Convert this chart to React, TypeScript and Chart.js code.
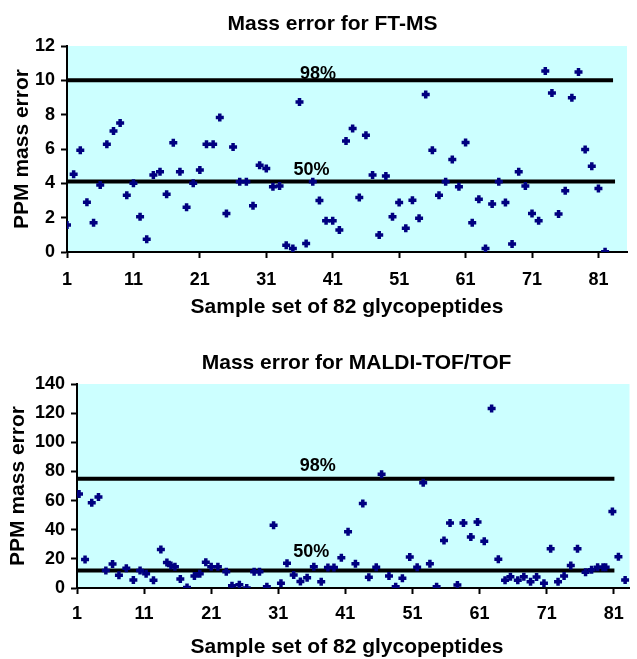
import { useEffect, useRef } from "react";
import { Chart, registerables } from "chart.js";

Chart.register(...registerables);

const FONT = "'Liberation Sans', Arial, Helvetica, sans-serif";
const MARKER = "#000080";
const PLOT_BG = "#ccffff";

// ---------- data ----------
const xTickValues = [1, 11, 21, 31, 41, 51, 61, 71, 81];

const ftmsPpm = [
  1.57, 4.53, 5.93, 2.9, 1.7, 3.9, 6.28, 7.05, 7.52, 3.3,
  4.0, 2.05, 0.74, 4.48, 4.67, 3.37, 6.36, 4.67, 2.6, 4.0,
  4.77, 6.28, 6.28, 7.83, 2.25, 6.12, 4.09, 4.09, 2.7, 5.06,
  4.87, 3.8, 3.84, 0.4, 0.2, 8.74, 0.5, 4.09, 3.0, 1.82,
  1.82, 1.28, 6.47, 7.19, 3.18, 6.8, 4.48, 0.99, 4.42, 2.05,
  2.89, 1.38, 3.02, 1.96, 9.17, 5.93, 3.31, 4.09, 5.39, 3.8,
  6.38, 1.7, 3.08, 0.21, 2.79, 4.09, 2.89, 0.47, 4.67, 3.84,
  2.25, 1.82, 10.54, 9.26, 2.21, 3.57, 8.99, 10.48, 5.97, 5.0,
  3.7, 0.02,
];
const ftmsSample = ftmsPpm.map((_, i) => i + 1);
const ftmsThresholds = [10, 4.1];
const ftmsThresholdEnds = [83.2, 83.5];
const ftmsThresholdLabels = ["98%", "50%"];
const ftmsLabelX = [38.8, 37.8];

const maldiSample = [
  1.3, 2.2, 3.2, 4.2, 5.3, 6.3, 7.25, 8.35, 9.4, 10.4,
  11.3, 12.4, 13.5, 14.4, 15.0, 15.6, 16.4, 17.4, 18.5, 19.3,
  20.2, 21.0, 22.0, 23.25, 24.1, 25.2, 26.3, 27.4, 28.2, 29.3,
  30.3, 31.4, 32.3, 33.3, 34.3, 35.3, 36.3, 37.4, 38.4, 39.3,
  40.4, 41.4, 42.5, 43.6, 44.5, 45.6, 46.4, 47.5, 48.5, 49.5,
  50.6, 51.7, 52.6, 53.6, 54.6, 55.7, 56.6, 57.7, 58.6, 59.7,
  60.7, 61.7, 62.8, 63.8, 64.8, 65.6, 66.7, 67.6, 68.6, 69.5,
  70.6, 71.6, 72.7, 73.6, 74.6, 75.6, 76.8, 77.7, 78.6, 79.4,
  79.8, 80.8, 81.7, 82.7,
];
const maldiPpm = [
  64.5, 19.5, 58.5, 62.5, 12, 16.5, 8.8, 13.5, 5.5, 12,
  9.7, 5.3, 26.5, 17.5, 15.5, 14.5, 6.2, 0.3, 8.2, 9.7,
  17.7, 14.5, 14.5, 11.2, 1.5, 2.3, 0, 11.2, 11.2, 0.9,
  43, 3.2, 17, 9, 4.5, 7, 14.5, 4.3, 14, 14,
  20.7, 38.6, 16.6, 58, 7.4, 14.3, 78, 8.3, 0.9, 6.7,
  21.2, 14.3, 72.2, 16.6, 0.9, 32.6, 44.6, 2.1, 44.6, 35,
  45.3, 32, 123.2, 19.8, 5.3, 7.8, 5.3, 7.8, 4.3, 7.5,
  3.2, 27, 4.3, 8.3, 15.5, 27, 10.8, 12.5, 14.3, 14.3,
  14.3, 52.5, 21.5, 5.5,
];
const maldiThresholds = [75, 12];
const maldiThresholdEnds = [81.1, 81.1];
const maldiThresholdLabels = ["98%", "50%"];
const maldiLabelX = [36.9, 35.9];

const xAxisTitle = "Sample set of 82 glycopeptides";
const yAxisTitle = "PPM mass error";

// ---------- plugins ----------
const plotBg = {
  id: "plotBg",
  beforeDraw(chart: any, _a: any, opts: any) {
    const { ctx, chartArea } = chart;
    ctx.save();
    ctx.fillStyle = opts.color;
    ctx.fillRect(chartArea.left, chartArea.top, chartArea.right - chartArea.left, chartArea.bottom - chartArea.top);
    ctx.restore();
  },
};

const freeTexts = {
  id: "freeTexts",
  afterDraw(chart: any, _a: any, opts: any) {
    const { ctx } = chart;
    ctx.save();
    ctx.fillStyle = "#000";
    ctx.textAlign = "center";
    ctx.textBaseline = "alphabetic";
    opts.items.forEach((it: any) => {
      ctx.font = `bold ${it.size}px ${FONT}`;
      ctx.fillText(it.text, it.x, it.y);
    });
    ctx.restore();
  },
};

const thresholdLabels = {
  id: "thresholdLabels",
  afterDatasetsDraw(chart: any, _a: any, opts: any) {
    const { ctx } = chart;
    const xs = chart.scales.x;
    const ys = chart.scales.y;
    ctx.save();
    ctx.font = `bold ${opts.size}px ${FONT}`;
    ctx.fillStyle = "#000";
    ctx.textAlign = "center";
    ctx.textBaseline = "alphabetic";
    opts.items.forEach((it: any) => {
      ctx.fillText(it.text, xs.getPixelForValue(it.x), ys.getPixelForValue(it.value) - it.lift);
    });
    ctx.restore();
  },
};

function buildConfig(p: {
  xs: number[];
  ys: number[];
  thresholds: number[];
  ends: number[];
  labels: string[];
  labelX: number[];
  lifts: number[];
  xMax: number;
  yMax: number;
  yStep: number;
  yWidth: number;
  xHeight: number;
  padTop: number;
  padRight: number;
  xTickPad: number;
  yTitlePad: number;
  title: string;
  titleX: number;
  titleY: number;
  xTitleX: number;
  xTitleY: number;
}): any {
  const tickFont = { family: FONT, size: 18, weight: "bold" as const };
  const titleFont = { family: FONT, size: 21, weight: "bold" as const, lineHeight: 1 };
  const lineSets = p.thresholds.map((t, i) => ({
    type: "scatter",
    data: [
      { x: 1, y: t },
      { x: p.ends[i], y: t },
    ],
    showLine: true,
    borderColor: "#000",
    borderWidth: 4,
    pointRadius: 0,
    order: 2,
  }));
  return {
    type: "scatter",
    data: {
      datasets: [
        {
          data: p.xs.map((x, i) => ({ x, y: p.ys[i] })),
          pointStyle: "cross",
          pointRadius: 4,
          borderColor: MARKER,
          backgroundColor: MARKER,
          borderWidth: 3.5,
          order: 1,
        },
        ...lineSets,
      ],
    },
    options: {
      responsive: false,
      animation: false,
      devicePixelRatio: 1,
      layout: { padding: { top: p.padTop, right: p.padRight, left: 0, bottom: 0 } },
      plugins: {
        legend: { display: false },
        tooltip: { enabled: false },
        title: { display: false },
        plotBg: { color: PLOT_BG },
        freeTexts: {
          items: [
            { text: p.title, x: p.titleX, y: p.titleY, size: 21 },
            { text: xAxisTitle, x: p.xTitleX, y: p.xTitleY, size: 21 },
          ],
        },
        thresholdLabels: {
          size: 18,
          items: p.thresholds.map((t, i) => ({ text: p.labels[i], value: t, x: p.labelX[i], lift: p.lifts[i] })),
        },
      },
      scales: {
        x: {
          type: "linear",
          min: 1,
          max: p.xMax,
          afterBuildTicks: (s: any) => {
            s.ticks = xTickValues.map((v) => ({ value: v }));
          },
          afterFit: (s: any) => {
            s.height = p.xHeight;
          },
          ticks: {
            font: tickFont,
            color: "#000",
            padding: p.xTickPad,
            maxRotation: 0,
            autoSkip: false,
            callback: (v: any) => String(v),
          },
          grid: {
            display: true,
            drawOnChartArea: false,
            drawTicks: true,
            tickLength: 6,
            tickColor: "#000",
            tickWidth: 2,
          },
          border: { display: true, color: "#000", width: 2 },
          title: { display: false },
        },
        y: {
          min: 0,
          max: p.yMax,
          afterFit: (s: any) => {
            s.width = p.yWidth;
          },
          ticks: {
            stepSize: p.yStep,
            font: tickFont,
            color: "#000",
            padding: 6,
          },
          grid: {
            display: true,
            drawOnChartArea: false,
            drawTicks: true,
            tickLength: 6,
            tickColor: "#000",
            tickWidth: 2,
          },
          border: { display: true, color: "#000", width: 2 },
          title: {
            display: true,
            text: yAxisTitle,
            font: titleFont,
            color: "#000",
            padding: { top: p.yTitlePad, bottom: 0 },
          },
        },
      },
    },
    plugins: [plotBg, freeTexts, thresholdLabels],
  };
}

export default function App() {
  const topRef = useRef<HTMLCanvasElement>(null);
  const botRef = useRef<HTMLCanvasElement>(null);

  useEffect(() => {
    const top = new Chart(
      topRef.current as HTMLCanvasElement,
      buildConfig({
        xs: ftmsSample,
        ys: ftmsPpm,
        thresholds: ftmsThresholds,
        ends: ftmsThresholdEnds,
        labels: ftmsThresholdLabels,
        labelX: ftmsLabelX,
        lifts: [1.5, 6.5],
        xMax: 85.3,
        yMax: 12,
        yStep: 2,
        yWidth: 67,
        xHeight: 68,
        padTop: 46,
        padRight: 10,
        xTickPad: 11,
        yTitlePad: 11.5,
        title: "Mass error for FT-MS",
        titleX: 332.5,
        titleY: 30,
        xTitleX: 347,
        xTitleY: 313,
      })
    );
    const bot = new Chart(
      botRef.current as HTMLCanvasElement,
      buildConfig({
        xs: maldiSample,
        ys: maldiPpm,
        thresholds: maldiThresholds,
        ends: maldiThresholdEnds,
        labels: maldiThresholdLabels,
        labelX: maldiLabelX,
        lifts: [8, 13.5],
        xMax: 83.35,
        yMax: 140,
        yStep: 20,
        yWidth: 77,
        xHeight: 71,
        padTop: 64,
        padRight: 0,
        xTickPad: 9,
        yTitlePad: 8,
        title: "Mass error for MALDI-TOF/TOF",
        titleX: 356.5,
        titleY: 49,
        xTitleX: 347,
        xTitleY: 333,
      })
    );
    return () => {
      top.destroy();
      bot.destroy();
    };
  }, []);

  return (
    <div style={{ position: "absolute", left: 0, top: 0, width: 637, height: 659, background: "#fff" }}>
      <canvas ref={topRef} width={637} height={320} style={{ position: "absolute", left: 0, top: 0, width: 637, height: 320 }} />
      <canvas ref={botRef} width={637} height={339} style={{ position: "absolute", left: 0, top: 320, width: 637, height: 339 }} />
    </div>
  );
}
